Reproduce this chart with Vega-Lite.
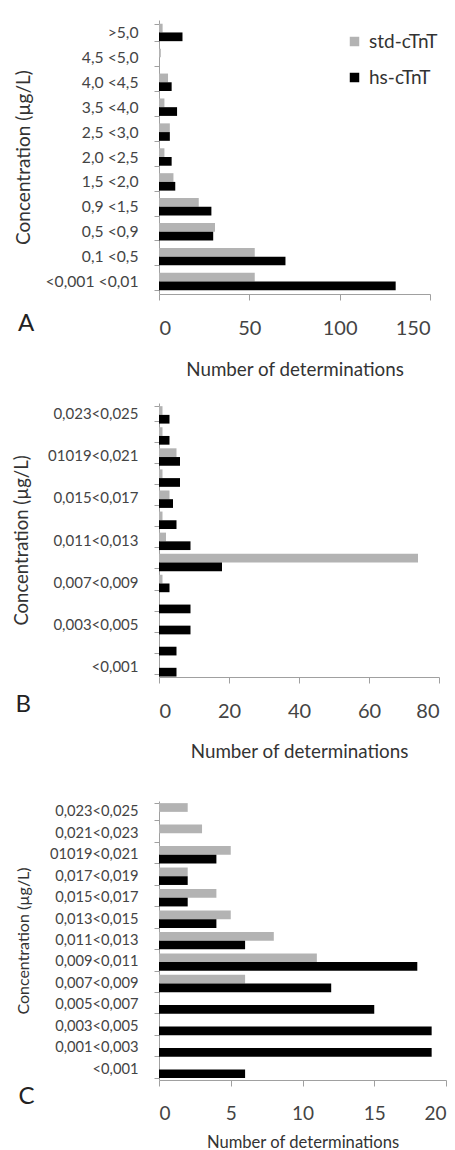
{
  "$schema": "https://vega.github.io/schema/vega-lite/v6.json",
  "background": "white",
  "padding": {"left": 12, "top": 12, "right": 5, "bottom": 0},
  "spacing": 17,
  "config": {
    "font": "Lato",
    "view": {"stroke": null},
    "axis": {"domainColor": "#a0a0a0", "tickColor": "#a0a0a0", "labelColor": "#444", "titleColor": "#333", "grid": false, "titleFontWeight": "normal"},
    "legend": {"labelFontSize": 19, "labelColor": "#333", "symbolType": "square", "symbolSize": 90, "rowPadding": 15, "labelOffset": 5, "symbolStrokeWidth": 0},
    "title": {"fontSize": 24, "fontWeight": "normal", "color": "#222"}
  },
  "datasets": {
    "a": [
      {"conc": ">5,0", "assay": "std-cTnT", "n": 2}, {"conc": ">5,0", "assay": "hs-cTnT", "n": 13},
      {"conc": "4,5 <5,0", "assay": "std-cTnT", "n": 1}, {"conc": "4,5 <5,0", "assay": "hs-cTnT", "n": 0},
      {"conc": "4,0 <4,5", "assay": "std-cTnT", "n": 5}, {"conc": "4,0 <4,5", "assay": "hs-cTnT", "n": 7},
      {"conc": "3,5 <4,0", "assay": "std-cTnT", "n": 3}, {"conc": "3,5 <4,0", "assay": "hs-cTnT", "n": 10},
      {"conc": "2,5 <3,0", "assay": "std-cTnT", "n": 6}, {"conc": "2,5 <3,0", "assay": "hs-cTnT", "n": 6},
      {"conc": "2,0 <2,5", "assay": "std-cTnT", "n": 3}, {"conc": "2,0 <2,5", "assay": "hs-cTnT", "n": 7},
      {"conc": "1,5 <2,0", "assay": "std-cTnT", "n": 8}, {"conc": "1,5 <2,0", "assay": "hs-cTnT", "n": 9},
      {"conc": "0,9 <1,5", "assay": "std-cTnT", "n": 22}, {"conc": "0,9 <1,5", "assay": "hs-cTnT", "n": 29},
      {"conc": "0,5 <0,9", "assay": "std-cTnT", "n": 31}, {"conc": "0,5 <0,9", "assay": "hs-cTnT", "n": 30},
      {"conc": "0,1 <0,5", "assay": "std-cTnT", "n": 53}, {"conc": "0,1 <0,5", "assay": "hs-cTnT", "n": 70},
      {"conc": "<0,001 <0,01", "assay": "std-cTnT", "n": 53}, {"conc": "<0,001 <0,01", "assay": "hs-cTnT", "n": 131}
    ],
    "b": [
      {"conc": "0,023<0,025", "assay": "std-cTnT", "n": 1}, {"conc": "0,023<0,025", "assay": "hs-cTnT", "n": 3},
      {"conc": "0,021<0,023", "assay": "std-cTnT", "n": 1}, {"conc": "0,021<0,023", "assay": "hs-cTnT", "n": 3},
      {"conc": "01019<0,021", "assay": "std-cTnT", "n": 5}, {"conc": "01019<0,021", "assay": "hs-cTnT", "n": 6},
      {"conc": "0,017<0,019", "assay": "std-cTnT", "n": 1}, {"conc": "0,017<0,019", "assay": "hs-cTnT", "n": 6},
      {"conc": "0,015<0,017", "assay": "std-cTnT", "n": 3}, {"conc": "0,015<0,017", "assay": "hs-cTnT", "n": 4},
      {"conc": "0,013<0,015", "assay": "std-cTnT", "n": 1}, {"conc": "0,013<0,015", "assay": "hs-cTnT", "n": 5},
      {"conc": "0,011<0,013", "assay": "std-cTnT", "n": 2}, {"conc": "0,011<0,013", "assay": "hs-cTnT", "n": 9},
      {"conc": "0,009<0,011", "assay": "std-cTnT", "n": 74}, {"conc": "0,009<0,011", "assay": "hs-cTnT", "n": 18},
      {"conc": "0,007<0,009", "assay": "std-cTnT", "n": 1}, {"conc": "0,007<0,009", "assay": "hs-cTnT", "n": 3},
      {"conc": "0,005<0,007", "assay": "std-cTnT", "n": 0}, {"conc": "0,005<0,007", "assay": "hs-cTnT", "n": 9},
      {"conc": "0,003<0,005", "assay": "std-cTnT", "n": 0}, {"conc": "0,003<0,005", "assay": "hs-cTnT", "n": 9},
      {"conc": "0,001<0,003", "assay": "std-cTnT", "n": 0}, {"conc": "0,001<0,003", "assay": "hs-cTnT", "n": 5},
      {"conc": "<0,001", "assay": "std-cTnT", "n": 0}, {"conc": "<0,001", "assay": "hs-cTnT", "n": 5}
    ],
    "c": [
      {"conc": "0,023<0,025", "assay": "std-cTnT", "n": 2}, {"conc": "0,023<0,025", "assay": "hs-cTnT", "n": 0},
      {"conc": "0,021<0,023", "assay": "std-cTnT", "n": 3}, {"conc": "0,021<0,023", "assay": "hs-cTnT", "n": 0},
      {"conc": "01019<0,021", "assay": "std-cTnT", "n": 5}, {"conc": "01019<0,021", "assay": "hs-cTnT", "n": 4},
      {"conc": "0,017<0,019", "assay": "std-cTnT", "n": 2}, {"conc": "0,017<0,019", "assay": "hs-cTnT", "n": 2},
      {"conc": "0,015<0,017", "assay": "std-cTnT", "n": 4}, {"conc": "0,015<0,017", "assay": "hs-cTnT", "n": 2},
      {"conc": "0,013<0,015", "assay": "std-cTnT", "n": 5}, {"conc": "0,013<0,015", "assay": "hs-cTnT", "n": 4},
      {"conc": "0,011<0,013", "assay": "std-cTnT", "n": 8}, {"conc": "0,011<0,013", "assay": "hs-cTnT", "n": 6},
      {"conc": "0,009<0,011", "assay": "std-cTnT", "n": 11}, {"conc": "0,009<0,011", "assay": "hs-cTnT", "n": 18},
      {"conc": "0,007<0,009", "assay": "std-cTnT", "n": 6}, {"conc": "0,007<0,009", "assay": "hs-cTnT", "n": 12},
      {"conc": "0,005<0,007", "assay": "std-cTnT", "n": 0}, {"conc": "0,005<0,007", "assay": "hs-cTnT", "n": 15},
      {"conc": "0,003<0,005", "assay": "std-cTnT", "n": 0}, {"conc": "0,003<0,005", "assay": "hs-cTnT", "n": 19},
      {"conc": "0,001<0,003", "assay": "std-cTnT", "n": 0}, {"conc": "0,001<0,003", "assay": "hs-cTnT", "n": 19},
      {"conc": "<0,001", "assay": "std-cTnT", "n": 0}, {"conc": "<0,001", "assay": "hs-cTnT", "n": 6}
    ]
  },
  "vconcat": [
    {
      "width": 271, "height": 274,
      "data": {"name": "a"},
      "title": {"text": "A", "orient": "bottom", "anchor": "start", "frame": "bounds", "offset": -67, "dx": 3},
      "mark": {"type": "bar"},
      "encoding": {
        "y": {"field": "conc", "type": "nominal",
          "sort": [">5,0", "4,5 <5,0", "4,0 <4,5", "3,5 <4,0", "2,5 <3,0", "2,0 <2,5", "1,5 <2,0", "0,9 <1,5", "0,5 <0,9", "0,1 <0,5", "<0,001 <0,01"],
          "scale": {"paddingInner": 0.3, "paddingOuter": 0.15},
          "axis": {"title": "Concentration (µg/L)", "tickBand": "extent", "tickSize": 5, "labelPadding": 16, "labelFontSize": 15.7, "titleFontSize": 19, "titlePadding": 11}},
        "yOffset": {"field": "assay", "sort": ["std-cTnT", "hs-cTnT"]},
        "x": {"field": "n", "type": "quantitative", "scale": {"domain": [0, 150]},
          "axis": {"values": [0, 50, 100, 150], "title": "Number of determinations", "labelFontSize": 20, "labelPadding": 18, "tickSize": 6, "titleFontSize": 18.8, "titlePadding": 22}},
        "color": {"field": "assay", "type": "nominal", "scale": {"domain": ["std-cTnT", "hs-cTnT"], "range": ["#b3b3b3", "#000000"]},
          "legend": {"title": null, "orient": "none", "legendX": 186, "legendY": 12}}
      }
    },
    {
      "width": 280, "height": 274,
      "data": {"name": "b"},
      "title": {"text": "B", "orient": "bottom", "anchor": "start", "frame": "bounds", "offset": -83, "dx": 3},
      "mark": {"type": "bar"},
      "encoding": {
        "y": {"field": "conc", "type": "nominal",
          "sort": ["0,023<0,025", "0,021<0,023", "01019<0,021", "0,017<0,019", "0,015<0,017", "0,013<0,015", "0,011<0,013", "0,009<0,011", "0,007<0,009", "0,005<0,007", "0,003<0,005", "0,001<0,003", "<0,001"],
          "scale": {"paddingInner": 0.3, "paddingOuter": 0.15},
          "axis": {"title": "Concentration (µg/L)", "tickBand": "extent", "tickSize": 5, "labelPadding": 16, "labelFontSize": 15, "titleFontSize": 18.5, "titlePadding": 16,
            "labelExpr": "indexof(['0,021<0,023','0,017<0,019','0,013<0,015','0,009<0,011','0,005<0,007','0,001<0,003'], datum.value) >= 0 ? '' : datum.label"}},
        "yOffset": {"field": "assay", "sort": ["std-cTnT", "hs-cTnT"]},
        "x": {"field": "n", "type": "quantitative", "scale": {"domain": [0, 80]},
          "axis": {"values": [0, 20, 40, 60, 80], "title": ["Number of determinations", " "], "titleLineHeight": 15, "labelFontSize": 20, "labelPadding": 18, "tickSize": 6, "titleFontSize": 18.8, "titlePadding": 21}},
        "color": {"field": "assay", "type": "nominal", "scale": {"domain": ["std-cTnT", "hs-cTnT"], "range": ["#b3b3b3", "#000000"]},
          "legend": {"title": null, "orient": "none", "legendX": 190, "legendY": 8, "rowPadding": 16}}
      }
    },
    {
      "width": 287, "height": 279,
      "data": {"name": "c"},
      "title": {"text": "C", "orient": "bottom", "anchor": "start", "frame": "bounds", "offset": -66, "dx": 3},
      "mark": {"type": "bar"},
      "encoding": {
        "y": {"field": "conc", "type": "nominal",
          "sort": ["0,023<0,025", "0,021<0,023", "01019<0,021", "0,017<0,019", "0,015<0,017", "0,013<0,015", "0,011<0,013", "0,009<0,011", "0,007<0,009", "0,005<0,007", "0,003<0,005", "0,001<0,003", "<0,001"],
          "scale": {"paddingInner": 0.2, "paddingOuter": 0.1},
          "axis": {"title": "Concentration (µg/L)", "tickBand": "extent", "tickSize": 5, "labelPadding": 16, "labelFontSize": 14.7, "titleFontSize": 16, "titlePadding": 18}},
        "yOffset": {"field": "assay", "sort": ["std-cTnT", "hs-cTnT"]},
        "x": {"field": "n", "type": "quantitative", "scale": {"domain": [0, 20]},
          "axis": {"values": [0, 5, 10, 15, 20], "title": "Number of determinations", "labelFontSize": 19, "labelPadding": 18, "tickSize": 6, "titleFontSize": 16.6, "titlePadding": 11}},
        "color": {"field": "assay", "type": "nominal", "scale": {"domain": ["std-cTnT", "hs-cTnT"], "range": ["#b3b3b3", "#000000"]},
          "legend": {"title": null, "orient": "none", "legendX": 194, "legendY": 12, "rowPadding": 13}}
      }
    }
  ]
}
